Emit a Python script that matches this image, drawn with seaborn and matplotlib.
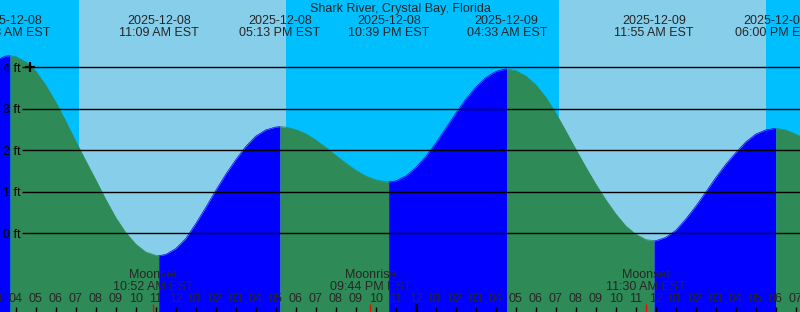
import numpy as np
import pandas as pd
import matplotlib
matplotlib.use("Agg")
import matplotlib.pyplot as plt
import seaborn as sns

# ---------------- data ----------------
title = "Shark River, Crystal Bay, Florida"
day0 = "2025-12-08 00:00"

# half-hourly water level readings (hours since 2025-12-08 00:00 EST, feet)
hours = [3.0 + 0.5 * i for i in range(83)]
level_ft = [4.17, 4.27, 4.26, 4.13, 3.91, 3.57, 3.16, 2.70, 2.22, 1.75,
            1.29, 0.82, 0.38, 0.02, -0.26, -0.45, -0.53, -0.51, -0.37, -0.13,
            0.23, 0.62, 1.03, 1.42, 1.77, 2.09, 2.34, 2.49, 2.56, 2.56,
            2.50, 2.40, 2.25, 2.07, 1.88, 1.69, 1.52, 1.38, 1.29, 1.24,
            1.26, 1.38, 1.58, 1.85, 2.17, 2.53, 2.89, 3.23, 3.52, 3.75,
            3.90, 3.96, 3.92, 3.79, 3.58, 3.28, 2.90, 2.47, 2.03, 1.60,
            1.19, 0.81, 0.47, 0.18, -0.02, -0.15, -0.18, -0.10, 0.07, 0.34,
            0.65, 0.99, 1.34, 1.66, 1.94, 2.20, 2.39, 2.49, 2.53, 2.49,
            2.39, 2.26, 2.10]

# high / low tides
extreme_times = ["2025-12-08 03:43", "2025-12-08 11:09", "2025-12-08 17:13",
                 "2025-12-08 22:39", "2025-12-09 04:33", "2025-12-09 11:55",
                 "2025-12-09 18:00"]
extreme_ft = [4.28, -0.54, 2.57, 1.24, 3.96, -0.18, 2.53]
extreme_dates = ["2025-12-08", "2025-12-08", "2025-12-08", "2025-12-08",
                 "2025-12-09", "2025-12-09", "2025-12-09"]
extreme_clock = ["03:43 AM EST", "11:09 AM EST", "05:13 PM EST", "10:39 PM EST",
                 "04:33 AM EST", "11:55 AM EST", "06:00 PM EST"]

# daylight periods
sunrise_times = ["2025-12-08 07:10", "2025-12-09 07:10"]
sunset_times = ["2025-12-08 17:31", "2025-12-09 17:31"]

# moon events
moon_times = ["2025-12-08 10:52", "2025-12-08 21:44", "2025-12-09 11:30"]
moon_names = ["Moonset", "Moonrise", "Moonset"]
moon_clock = ["10:52 AM EST", "09:44 PM EST", "11:30 AM EST"]

# height grid
grid_ft = [0, 1, 2, 3, 4]
grid_labels = ["0 ft", "1 ft", "2 ft", "3 ft", "4 ft"]

# hour ticks
tick_hours = list(range(3, 44))
tick_labels = ["03", "04", "05", "06", "07", "08", "09", "10", "11", "12",
               "01", "02", "03", "04", "05", "06", "07", "08", "09", "10", "11", "12",
               "01", "02", "03", "04", "05", "06", "07", "08", "09", "10", "11", "12",
               "01", "02", "03", "04", "05", "06", "07"]
midnight_hour = 24
marker_time = "2025-12-08 04:44"
marker_ft = 4

# ---------------- helpers ----------------
base = pd.Timestamp(day0)


def to_h(s):
    return (pd.to_datetime(s) - base) / pd.Timedelta(hours=1)


ext_t = np.array([to_h(s) for s in extreme_times])
moon_t = np.array([to_h(s) for s in moon_times])
rise_t = [to_h(s) for s in sunrise_times]
set_t = [to_h(s) for s in sunset_times]

W, H = 800, 312
PX_PER_H = 20.0
X_HOUR4 = 15.7
T0 = 4 - X_HOUR4 / PX_PER_H
T1 = T0 + W / PX_PER_H
PX_PER_FT = 41.5
Y_ZERO = 233.3
FT_TOP = Y_ZERO / PX_PER_FT
FT_BOT = (Y_ZERO - H) / PX_PER_FT


def yf(py):  # pixel-from-top -> axes fraction
    return 1 - py / H


def xt(px):
    return T0 + px / PX_PER_H


NIGHT = "#00BFFF"
DAY = "#87CEEB"
EBB = "#2E8B57"
FLOOD = "#0000FF"

sns.set_style("white")
plt.rcParams["font.family"] = ["Liberation Sans", "DejaVu Sans"]
FS = 9

df = pd.DataFrame({"t": list(hours) + list(ext_t), "ft": list(level_ft) + list(extreme_ft)})
df = df.drop_duplicates("t").sort_values("t").reset_index(drop=True)

fig = plt.figure(figsize=(W / 100, H / 100), dpi=100)
fig.patch.set_facecolor(NIGHT)
ax = fig.add_axes([0, 0, 1, 1])
ax.set_facecolor(NIGHT)

for a, b in zip(rise_t, set_t):
    ax.axvspan(a, b, color=DAY, lw=0, zorder=1)

bounds = [df.t.min()] + list(ext_t) + [df.t.max()]
parts = []
for i, (a, b) in enumerate(zip(bounds[:-1], bounds[1:])):
    seg = df[(df.t >= a) & (df.t <= b)].copy()
    phase = "flood" if seg.ft.iloc[-1] > seg.ft.iloc[0] else "ebb"
    seg["phase"] = phase
    seg["seg"] = i
    parts.append(seg)
    ax.fill_between(seg.t, seg.ft, FT_BOT, color=FLOOD if phase == "flood" else EBB,
                    lw=0, zorder=2)
line_df = pd.concat(parts, ignore_index=True)
sns.lineplot(data=line_df, x="t", y="ft", hue="phase", units="seg", estimator=None,
             palette={"ebb": EBB, "flood": FLOOD}, legend=False, lw=0.5, ax=ax,
             zorder=3, sort=False)

# grid lines and labels
ax.hlines(grid_ft, xt(22), T1, colors="black", lw=1.0, zorder=4)
for v, lab in zip(grid_ft, grid_labels):
    ax.text(xt(2.7), v - 4.4 / PX_PER_FT, lab, fontsize=FS, ha="left", va="baseline",
            color="black", zorder=5)
ax.plot([to_h(marker_time)], [marker_ft], marker="+", ms=7, mew=1.6, color="black",
        zorder=6, ls="none")

xa = ax.get_xaxis_transform()
# title and tide labels
ax.text((T0 + T1) / 2, yf(11.7), title, fontsize=FS, ha="center", va="baseline",
        transform=xa, zorder=6)
for t, d, c in zip(ext_t, extreme_dates, extreme_clock):
    ax.text(t, yf(24.0), d, fontsize=FS, ha="center", va="baseline", transform=xa, zorder=6)
    ax.text(t, yf(36.0), c, fontsize=FS, ha="center", va="baseline", transform=xa, zorder=6)

# moon labels
for t, n, c in zip(moon_t, moon_names, moon_clock):
    ax.text(t, yf(278.3), n, fontsize=FS, ha="center", va="baseline", transform=xa, zorder=6)
    ax.text(t, yf(290.0), c, fontsize=FS, ha="center", va="baseline", transform=xa, zorder=6)

# hour ticks and labels
ax.vlines(tick_hours, 0, yf(306.5), colors="black", lw=1.0, transform=xa, zorder=5)
for t, lab in zip(tick_hours, tick_labels):
    ax.text(t, yf(301.7), lab, fontsize=FS, ha="center", va="baseline", transform=xa, zorder=6)
ax.vlines([midnight_hour], 0, yf(304), colors="black", lw=2.2, transform=xa, zorder=6)
ax.vlines(moon_t, 0, yf(304), colors="red", lw=1.0, transform=xa, zorder=6)

ax.set_xlim(T0, T1)
ax.set_ylim(FT_BOT, FT_TOP)
ax.axis("off")

fig.savefig("out.png", dpi=100, facecolor=NIGHT)
